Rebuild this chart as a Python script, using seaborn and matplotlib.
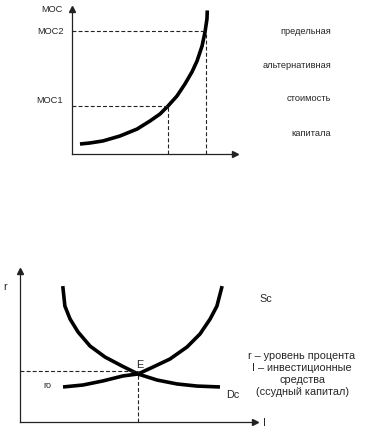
import seaborn as sns
import matplotlib.pyplot as plt
import pandas as pd

sns.set_style("white")
plt.rcParams['font.family'] = ['Liberation Sans', 'DejaVu Sans']

# top chart: marginal opportunity cost of capital
moc_x = [0.49, 1.1, 1.9, 2.94, 3.99, 4.79, 5.4, 5.89, 6.44, 6.93, 7.36, 7.67, 7.98, 8.16, 8.28, 8.3]
moc_y = [0.69, 0.76, 0.9, 1.24, 1.72, 2.28, 2.76, 3.31, 4.0, 4.83, 5.66, 6.41, 7.45, 8.41, 9.31, 9.9]
moc1 = (5.9, 3.3)
moc2 = (8.2, 8.5)
right_words = ["предельная", "альтернативная", "стоимость", "капитала"]
right_y = [8.5, 6.2, 3.9, 1.5]

# bottom chart: loan capital market
dc_x = [1.82, 1.91, 2.13, 2.47, 2.98, 3.62, 4.34, 5.02, 5.83, 6.68, 7.53, 8.51]
dc_y = [9.0, 7.68, 6.82, 5.96, 5.03, 4.3, 3.71, 3.18, 2.78, 2.52, 2.38, 2.32]
sc_x = [1.83, 2.68, 3.53, 4.38, 5.02, 5.66, 6.38, 7.11, 7.66, 8.09, 8.38, 8.6]
sc_y = [2.32, 2.45, 2.72, 3.05, 3.18, 3.64, 4.17, 4.97, 5.83, 6.82, 7.68, 9.0]
eq = (5.0, 3.4)

W, H = 371, 427
fig = plt.figure(figsize=(W / 100, H / 100), dpi=100)

def make_axes(l, t, r, b):
    ax = fig.add_axes([l / W, 1 - b / H, (r - l) / W, (b - t) / H])
    ax.set_xlim(0, 10)
    ax.set_ylim(0, 10)
    ax.set_xticks([])
    ax.set_yticks([])
    for s in ["top", "right"]:
        ax.spines[s].set_visible(False)
    for s in ["left", "bottom"]:
        ax.spines[s].set_linewidth(0.9)
        ax.spines[s].set_color("#222222")
    ax.plot(1, 0, ">", color="#222222", ms=5, transform=ax.transAxes, clip_on=False)
    ax.plot(0, 1, "^", color="#222222", ms=5, transform=ax.transAxes, clip_on=False)
    ax.patch.set_alpha(0)
    return ax

dash = dict(color="#222222", lw=0.8, ls=(0, (3.5, 2)))
curve_kw = dict(color="black", lw=2.6, solid_capstyle="butt", solid_joinstyle="round")

# ---- top
ax1 = make_axes(72, 10, 235, 155)
sns.lineplot(data=pd.DataFrame({"x": moc_x, "y": moc_y}), x="x", y="y",
             sort=False, ax=ax1, **curve_kw)
for px, py in [moc1, moc2]:
    ax1.plot([0, px], [py, py], **dash)
    ax1.plot([px, px], [0, py], **dash)
ax1.set_xlabel("")
ax1.set_ylabel("")
fs1 = 6.7
ax1.text(-0.6, 10.0, "MOC", fontsize=fs1, ha="right", va="center")
ax1.text(-0.5, moc2[1], "MOC2", fontsize=fs1, ha="right", va="center")
ax1.text(-0.55, moc1[1] + 0.45, "MOC1", fontsize=fs1, ha="right", va="center")
for w, y in zip(right_words, right_y):
    ax1.text(15.9, y, w, fontsize=fs1, ha="right", va="center")

# ---- bottom
ax2 = make_axes(20, 272, 255, 423)
curves = pd.concat([
    pd.DataFrame({"x": dc_x, "y": dc_y, "c": "Dc"}),
    pd.DataFrame({"x": sc_x, "y": sc_y, "c": "Sc"}),
])
sns.lineplot(data=curves, x="x", y="y", units="c", estimator=None, sort=False,
             ax=ax2, **curve_kw)
ax2.plot([0, eq[0]], [eq[1], eq[1]], **dash)
ax2.plot([eq[0], eq[0]], [0, eq[1]], **dash)
ax2.set_xlabel("")
ax2.set_ylabel("")
fs2 = 7.8
ax2.text(-0.65, 9.0, "r", fontsize=fs2, ha="center", va="center")
ax2.text(10.4, 0.0, "I", fontsize=fs2, ha="center", va="center")
ax2.text(10.2, 8.2, "Sc", fontsize=fs2, ha="left", va="center")
ax2.text(8.75, 1.85, "Dc", fontsize=fs2, ha="left", va="center")
ax2.text(1.0, 2.5, "ro", fontsize=6.5, ha="left", va="center")
ax2.text(4.95, 3.85, "E", fontsize=fs2, ha="left", va="center")
ax2.text(12.0, 3.25,
         "r – уровень процента\nI – инвестиционные\nсредства\n(ссудный капитал)",
         fontsize=fs2, ha="center", va="center", linespacing=1.25)

fig.savefig("out.png", dpi=100)
